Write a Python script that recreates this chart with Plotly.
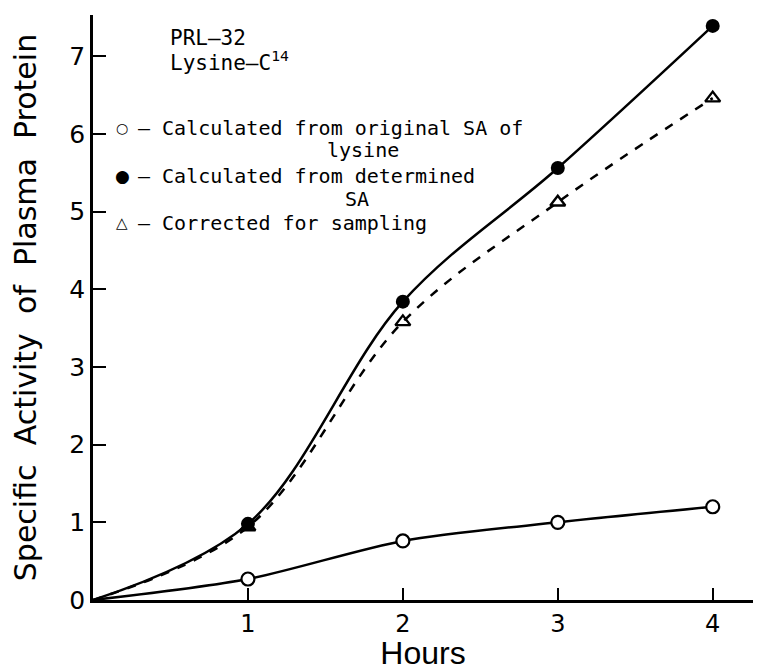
import plotly.graph_objects as go

hours = [0, 1, 2, 3, 4]
sa_original = [0, 0.27, 0.76, 1.0, 1.2]
sa_determined = [0, 0.98, 3.84, 5.56, 7.39]
sa_corrected = [0, 0.94, 3.58, 5.12, 6.46]
x_ticks = [1, 2, 3, 4]
y_ticks = [0, 1, 2, 3, 4, 5, 6, 7]

MONO = "DejaVu Sans Mono"
SANS = "DejaVu Sans"
msize = [0, 13, 13, 13, 13]

# the page body adds an 8px offset; figure is sized so the screen shows 761x671
OFF = 8
W, H = 761 - OFF, 671 - OFF
# plot area in screen pixels
SX0, SX1, SY0, SY1 = 93, 753, 15, 600
L, R = SX0 - OFF, W - (SX1 - OFF)
T, B = SY0 - OFF, H - (SY1 - OFF)
PW, PH = SX1 - SX0, SY1 - SY0


def px(x):
    return (x - SX0) / PW


def py(y):
    return (SY1 - y) / PH


fig = go.Figure()
fig.add_trace(go.Scatter(
    x=hours, y=sa_corrected, mode="lines+markers",
    line=dict(color="black", width=2.5, dash="dash", shape="spline", smoothing=1.0),
    marker=dict(symbol="triangle-up-open", size=msize, color="black", opacity=1,
                line=dict(width=2.4, color="black")),
    showlegend=False))
fig.add_trace(go.Scatter(
    x=hours, y=sa_determined, mode="lines+markers",
    line=dict(color="black", width=2.5, shape="spline", smoothing=1.0),
    marker=dict(symbol="circle", size=[0, 14, 14, 14, 14], color="black", opacity=1,
                line=dict(width=0, color="black")),
    showlegend=False))
fig.add_trace(go.Scatter(
    x=hours, y=sa_original, mode="lines+markers",
    line=dict(color="black", width=2.5, shape="spline", smoothing=0.8),
    marker=dict(symbol="circle", size=msize, color="white", opacity=1,
                line=dict(color="black", width=2.2)),
    showlegend=False))

annotations = []


def add(xp, yp, text, size, family=MONO, anchor="left"):
    annotations.append(dict(
        x=px(xp), y=py(yp), xref="paper", yref="paper", text=text,
        xanchor=anchor, yanchor="middle", showarrow=False,
        font=dict(family=family, size=size, color="black")))


add(168, 38, "PRL–32", 21)
add(168, 61, "Lysine–C<sup>14</sup>", 21)
add(122, 128, "○", 14, SANS, "center")
add(136, 128, "– Calculated from original SA of", 20)
add(325, 150, "lysine", 20)
add(122, 176, "●", 17, SANS, "center")
add(136, 176, "– Calculated from determined", 20)
add(343, 199, "SA", 20)
add(122, 223, "△", 15, SANS, "center")
add(136, 223, "– Corrected for sampling", 20)

NB2 = "\u00a0\u00a0"
ytitle = NB2.join(["Specific", "Activity", "of", "Plasma", "Protein"])

fig.update_layout(
    width=W, height=H,
    margin=dict(l=L, r=R, t=T, b=B),
    paper_bgcolor="white", plot_bgcolor="white",
    font=dict(family=SANS, color="black"),
    annotations=annotations,
    xaxis=dict(range=[0, 4.26], tickvals=x_ticks, ticks="inside", ticklen=12,
               tickwidth=2, tickcolor="black", showline=True, linecolor="black",
               linewidth=2.5, showgrid=False, zeroline=False, automargin=False,
               tickfont=dict(family=SANS, size=24),
               title=dict(text="Hours", font=dict(family="Liberation Sans", size=32),
                          standoff=5)),
    yaxis=dict(range=[0, 7.53], tickvals=y_ticks, ticks="inside", ticklen=13,
               tickwidth=2, tickcolor="black", showline=True, linecolor="black",
               linewidth=2.5, showgrid=False, zeroline=False, automargin=False,
               tickfont=dict(family=SANS, size=25),
               title=dict(text=ytitle, font=dict(family=SANS, size=30), standoff=30)),
)

fig.write_html("out.html")
